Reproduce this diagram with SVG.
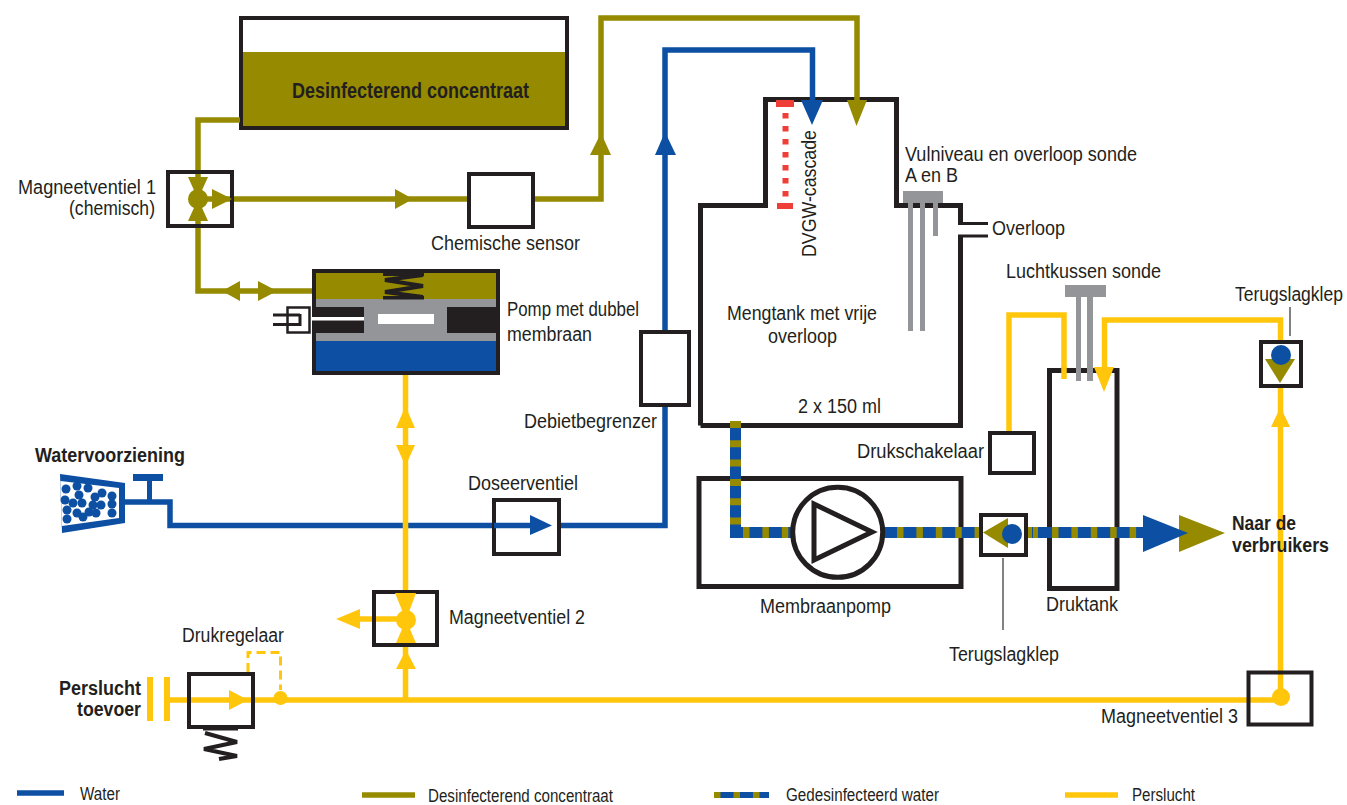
<svg xmlns="http://www.w3.org/2000/svg" width="1347" height="805" viewBox="0 0 1347 805">
<style>
text{font-family:"Liberation Sans",Arial,sans-serif;font-size:20px;fill:#231f20}
.b{font-weight:bold}
.lg{font-size:17.5px}
.box{fill:#fff;stroke:#231f20;stroke-width:4}
.wall{fill:none;stroke:#231f20;stroke-width:5}
.ol{fill:none;stroke:#958a00;stroke-width:5.5}
.bl{fill:none;stroke:#0c4fa3;stroke-width:5.5}
.ye{fill:none;stroke:#ffc60b;stroke-width:5.5}
.gr{fill:#939598}
.fo{fill:#958a00}.fb{fill:#0c4fa3}.fy{fill:#ffc60b}
.mixb{fill:none;stroke:#0c4fa3;stroke-width:11}
.mixo{fill:none;stroke:#958a00;stroke-width:11}
.lead{stroke:#58595b;stroke-width:1.5;fill:none}
.spr{fill:none;stroke:#231f20;stroke-width:4}
</style>
<rect width="1347" height="805" fill="#fff"/>

<g id="tank-concentraat">
<rect x="241" y="18" width="326" height="110" fill="#fff" stroke="#231f20" stroke-width="4"/>
<rect x="243" y="52" width="322" height="74" class="fo"/>
<text class="b" x="292" y="98" textLength="237" lengthAdjust="spacingAndGlyphs" style="font-size:22px">Desinfecterend concentraat</text>
</g>

<g id="mengtank">
<path class="wall" d="M700.500 425.500V205.500H765.500V99.500H896.500V205.500H960.500V224"/>
<path class="wall" d="M960.500 236V425.500H700.500"/>
<path fill="none" stroke="#231f20" stroke-width="3" d="M958 223.500H988M958 236H988"/>
<text x="727" y="320" textLength="150" lengthAdjust="spacingAndGlyphs">Mengtank met vrije</text>
<text x="768" y="343" textLength="69" lengthAdjust="spacingAndGlyphs">overloop</text>
<text x="798" y="413" textLength="83" lengthAdjust="spacingAndGlyphs">2 x 150 ml</text>
<text x="905" y="161" textLength="232" lengthAdjust="spacingAndGlyphs">Vulniveau en overloop sonde</text>
<text x="905" y="182" textLength="53" lengthAdjust="spacingAndGlyphs">A en B</text>
<text x="992" y="235" textLength="73" lengthAdjust="spacingAndGlyphs">Overloop</text>
<rect class="gr" x="903" y="191" width="40" height="12"/>
<rect class="gr" x="908" y="203" width="5" height="128"/>
<rect class="gr" x="920" y="203" width="5" height="128"/>
<rect class="gr" x="933" y="203" width="5" height="33"/>
</g>

<g id="dvgw-cascade">
<rect x="776" y="100" width="18" height="7" fill="#ef3e36"/>
<rect x="777" y="203" width="16" height="6" fill="#ef3e36"/>
<path d="M785.500 107V203" fill="none" stroke="#ef3e36" stroke-width="6" stroke-dasharray="5.500 7.500" stroke-dashoffset="-6"/>
<text transform="translate(816 257) rotate(-90)" textLength="127" lengthAdjust="spacingAndGlyphs">DVGW-cascade</text>
</g>

<g id="connectors">
<path class="ol" d="M240 120H198V291H312"/>
<path class="ol" d="M198 199H468"/>
<path class="ol" d="M534 199H601V18H857V100"/>
<path class="bl" d="M125 502H170V525.500H492"/>
<path class="bl" d="M559 525.500H665V50H812.500V100"/>
<path class="ye" d="M405.500 374V699"/>
<path class="ye" d="M406 619H360"/>
<path class="ye" d="M170 700H1281"/>
<path class="ye" d="M1280.500 697V320H1104.500V370"/>
<path class="ye" d="M1009 431V315H1064V379"/>
<path d="M248 672V652.500H280.500V690" fill="none" stroke="#ffc60b" stroke-width="3" stroke-dasharray="9 5"/>
<polygon class="fo" points="847,100 867,100 856.500,126"/>
<polygon class="fb" points="801,100 823,100 812,125"/>
<polygon class="fo" points="395,189 413,199 395,209"/>
<polygon class="fo" points="590,155 611,155 601,133"/>
<polygon class="fb" points="655,155 676,155 665,132"/>
<polygon class="fo" points="222,291 240,281 240,301"/>
<polygon class="fo" points="258,281 258,301 277,291"/>
<polygon class="fy" points="396,428 415,428 405.500,406"/>
<polygon class="fy" points="396,445 415,445 405.500,466"/>
<polygon class="fy" points="336,619 360,609 360,629"/>
<polygon class="fy" points="396,669 416,669 406,650"/>
<polygon class="fy" points="1271,427 1290,427 1280.500,407"/>
<path class="lead" d="M1290 307V336M1003 558V630"/>
</g>

<g id="membraanpomp">
<rect class="box" style="stroke-width:5" x="699" y="478.500" width="262" height="108"/>
<text x="760" y="613" textLength="131" lengthAdjust="spacingAndGlyphs">Membraanpomp</text>
</g>

<g id="druktank">
<rect class="box" style="stroke-width:5" x="1049.500" y="370.500" width="67.500" height="218"/>
<text x="1046" y="611" textLength="72" lengthAdjust="spacingAndGlyphs">Druktank</text>
<rect class="gr" x="1065" y="285" width="41" height="12"/>
<rect class="gr" x="1076" y="297" width="5" height="84"/>
<rect class="gr" x="1087" y="297" width="6" height="84"/>
<path class="ye" d="M1064 366V379"/>
<polygon class="fy" points="1094,367 1114,367 1104,392"/>
<text x="1006" y="278" textLength="155" lengthAdjust="spacingAndGlyphs">Luchtkussen sonde</text>
</g>

<g id="gedesinfecteerd-water">
<path class="mixb" d="M735.500 421V532.500H1143"/>
<path class="mixo" d="M735.500 421V526" stroke-dasharray="7 12.300"/>
<path class="mixo" d="M743 532.500H792" stroke-dasharray="6.500 12.900"/>
<path class="mixo" d="M897 532.500H985" stroke-dasharray="6.500 12.900"/>
<path class="mixo" d="M1028 532.500H1032M1033 532.500H1038"/>
<path class="mixo" d="M1052 532.500H1140" stroke-dasharray="6.500 12.900"/>
<polygon class="fo" points="1179,515 1179,552 1225,533"/>
<polygon class="fb" points="1143,515 1143,552 1188,533"/>
<text class="b" x="1232" y="530" textLength="64" lengthAdjust="spacingAndGlyphs">Naar de</text>
<text class="b" x="1232" y="552" textLength="97" lengthAdjust="spacingAndGlyphs">verbruikers</text>
</g>

<g id="pomp-symbool">
<circle cx="837.700" cy="532.300" r="45" fill="#fff" stroke="#231f20" stroke-width="5"/>
<polygon points="814,504 814,560 872,532" fill="#fff" stroke="#231f20" stroke-width="5"/>
</g>

<g id="magneetventiel-1">
<rect class="box" x="168" y="172" width="64" height="54" style="fill:none"/>
<circle cx="198" cy="199" r="10" class="fo"/>
<polygon class="fo" points="188,177 208,177 198,199"/>
<polygon class="fo" points="188,221 208,221 198,199"/>
<polygon class="fo" points="212,189 232,199 212,209"/>
<text x="18" y="194" textLength="138" lengthAdjust="spacingAndGlyphs">Magneetventiel 1</text>
<text x="69" y="215" textLength="86" lengthAdjust="spacingAndGlyphs">(chemisch)</text>
</g>

<g id="chemische-sensor">
<rect class="box" x="469" y="174" width="64" height="53"/>
<text x="431" y="250" textLength="149" lengthAdjust="spacingAndGlyphs">Chemische sensor</text>
</g>

<g id="pomp-dubbel-membraan">
<rect x="314" y="271" width="184" height="102" fill="#939598" stroke="#231f20" stroke-width="4"/>
<rect x="316" y="273" width="180" height="26" class="fo"/>
<rect x="316" y="341" width="180" height="30" class="fb"/>
<rect x="316" y="307" width="48" height="26" fill="#231f20"/>
<rect x="447" y="307" width="49" height="26" fill="#231f20"/>
<rect x="378" y="314" width="56" height="10" fill="#fff"/>
<rect x="307" y="317" width="57" height="3.500" fill="#fff"/>
<rect x="383" y="272" width="41" height="4" fill="#231f20"/>
<rect x="383" y="296" width="41" height="3.500" fill="#231f20"/>
<path class="spr" d="M423 275L385 280L423 286L385 292L423 297"/>
<rect x="287.500" y="307.500" width="22" height="25" fill="#fff" stroke="#231f20" stroke-width="2.500"/>
<path d="M273 315H300M273 324.500H300M300 314V326" fill="none" stroke="#231f20" stroke-width="3"/>
<text x="507" y="316" textLength="132" lengthAdjust="spacingAndGlyphs">Pomp met dubbel</text>
<text x="507" y="341" textLength="85" lengthAdjust="spacingAndGlyphs">membraan</text>
</g>

<g id="debietbegrenzer">
<rect class="box" x="641" y="332" width="48" height="73"/>
<text x="524" y="428" textLength="133" lengthAdjust="spacingAndGlyphs">Debietbegrenzer</text>
</g>

<g id="watervoorziening">
<text class="b" x="35" y="462" textLength="150" lengthAdjust="spacingAndGlyphs">Watervoorziening</text>
<path fill-rule="evenodd" class="fb" d="M60 474L125 483V523L62 533ZM60.500 481L62 526L119 518V488Z"/>
<rect class="fb" x="133" y="474" width="30" height="7"/>
<rect class="fb" x="147" y="481" width="5" height="20"/>
<g class="fb">
<circle cx="66" cy="489" r="4.500"/><circle cx="77" cy="486" r="4.500"/><circle cx="88" cy="488" r="4.500"/><circle cx="65" cy="500" r="4.500"/><circle cx="73" cy="503" r="4.500"/><circle cx="79" cy="495" r="4.500"/><circle cx="82" cy="503" r="4.500"/><circle cx="67" cy="510" r="4.500"/><circle cx="67" cy="519" r="4.500"/><circle cx="77" cy="513" r="4.500"/><circle cx="83" cy="517" r="4.500"/><circle cx="89" cy="512" r="4.500"/><circle cx="96" cy="513" r="4.500"/><circle cx="95" cy="497" r="4.500"/><circle cx="93" cy="505" r="4.500"/><circle cx="102" cy="493" r="4.500"/><circle cx="101" cy="505" r="4.500"/><circle cx="112" cy="496" r="4.500"/><circle cx="112" cy="504" r="4.500"/><circle cx="112" cy="513" r="4.500"/>
</g>
</g>

<g id="doseerventiel">
<rect class="box" x="494" y="500" width="65" height="54"/>
<path class="bl" d="M494 525.500H535"/>
<polygon class="fb" points="530,515 530,535 552,525.500"/>
<text x="468" y="490" textLength="110" lengthAdjust="spacingAndGlyphs">Doseerventiel</text>
</g>

<g id="magneetventiel-2">
<rect class="box" x="374" y="592" width="63" height="53" style="fill:none"/>
<circle cx="406" cy="620" r="10" class="fy"/>
<polygon class="fy" points="395,593 416,593 406,620"/>
<polygon class="fy" points="396,643 416,643 406,620"/>
<text x="449" y="624" textLength="136" lengthAdjust="spacingAndGlyphs">Magneetventiel 2</text>
</g>

<g id="drukregelaar">
<text x="182" y="642" textLength="102" lengthAdjust="spacingAndGlyphs">Drukregelaar</text>
<rect class="box" x="189" y="674" width="64" height="53" style="fill:none"/>
<rect class="fy" x="147" y="677" width="6" height="44"/>
<rect class="fy" x="164" y="677" width="6" height="44"/>
<polygon class="fy" points="229,690 229,710 248,700"/>
<circle class="fy" cx="280.500" cy="698" r="7"/>
<rect x="203" y="727" width="35" height="3.500" fill="#231f20"/>
<path class="spr" d="M205 733L237 742L204 749L237 756L219 759"/>
<text class="b" x="59" y="695" textLength="82" lengthAdjust="spacingAndGlyphs">Perslucht</text>
<text class="b" x="77" y="716" textLength="64" lengthAdjust="spacingAndGlyphs">toevoer</text>
</g>

<g id="terugslagklep-1">
<rect class="box" x="981" y="515" width="45" height="40"/>
<polygon class="fo" points="983,532.500 1008,518 1008,548"/>
<circle class="fb" cx="1012" cy="534" r="10"/>
<text x="949" y="661" textLength="110" lengthAdjust="spacingAndGlyphs">Terugslagklep</text>
</g>

<g id="drukschakelaar">
<rect class="box" x="990" y="433" width="44" height="40"/>
<text x="857" y="458" textLength="127" lengthAdjust="spacingAndGlyphs">Drukschakelaar</text>
</g>

<g id="terugslagklep-2">
<rect class="box" x="1261" y="342" width="40" height="44"/>
<polygon class="fo" points="1265,359 1295,359 1280,383"/>
<circle class="fb" cx="1281" cy="355" r="10"/>
<text transform="translate(1235 301) scale(0.875 1)">Terugslagklep</text>
</g>

<g id="magneetventiel-3">
<rect class="box" x="1248.500" y="672.500" width="63" height="52" style="fill:none"/>
<circle class="fy" cx="1281" cy="697" r="9"/>
<text x="1101" y="723" textLength="137" lengthAdjust="spacingAndGlyphs">Magneetventiel 3</text>
</g>

<g id="legenda">
<path class="bl" d="M17 793H64"/>
<text class="lg" x="80" y="800" textLength="40" lengthAdjust="spacingAndGlyphs">Water</text>
<path class="ol" d="M362 795H415"/>
<text class="lg" x="428" y="802" textLength="185" lengthAdjust="spacingAndGlyphs">Desinfecterend concentraat</text>
<path d="M714 795H769" fill="none" stroke="#0c4fa3" stroke-width="6"/>
<path d="M714 795H769" fill="none" stroke="#958a00" stroke-width="6" stroke-dasharray="6.500 13"/>
<text class="lg" x="786" y="801" textLength="153" lengthAdjust="spacingAndGlyphs">Gedesinfecteerd water</text>
<path class="ye" d="M1065 795H1118"/>
<text class="lg" x="1132" y="801" textLength="63" lengthAdjust="spacingAndGlyphs">Perslucht</text>
</g>
</svg>
